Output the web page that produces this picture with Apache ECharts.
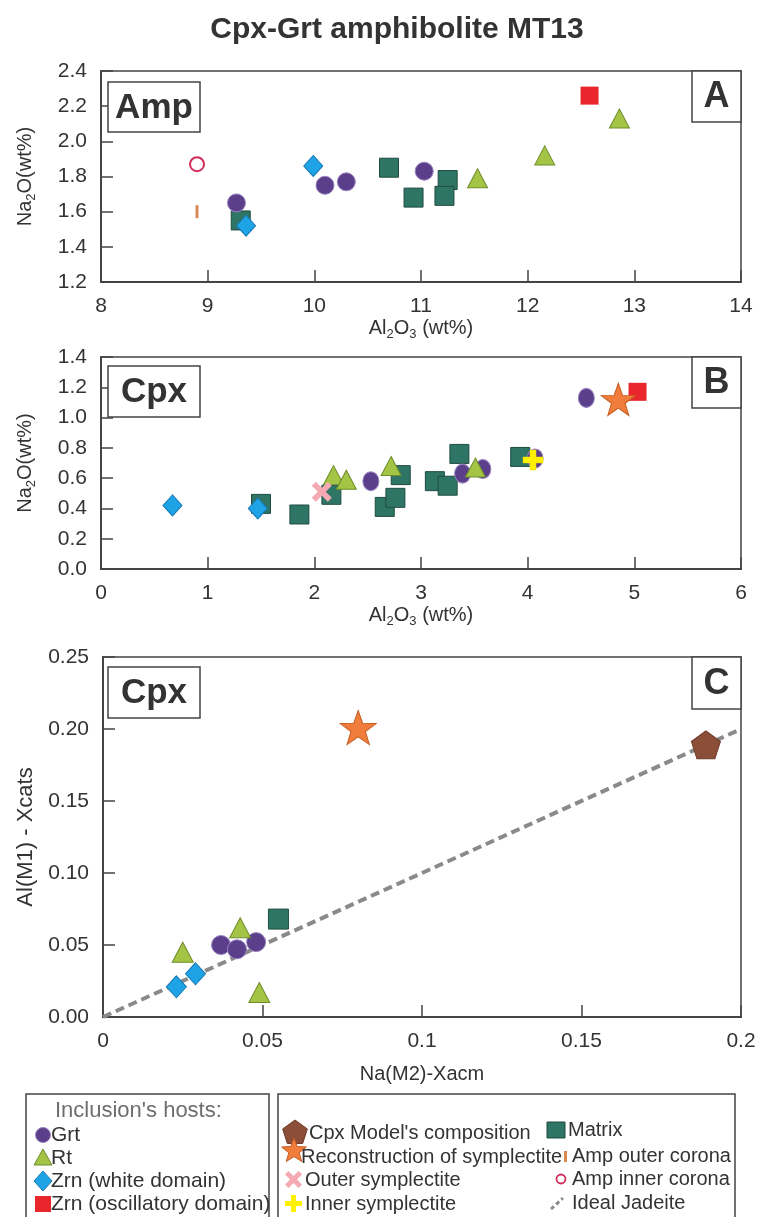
<!DOCTYPE html>
<html>
<head>
<meta charset="utf-8">
<script src="https://cdn.jsdelivr.net/npm/echarts@6/dist/echarts.min.js"></script>
<style>
  html, body { margin: 0; padding: 0; background: #fff; }
  #chart { width: 759px; height: 1217px; }
</style>
</head>
<body>
<div id="chart"></div>
<script>
// ---- Panel A: amphibole, Al2O3 vs Na2O (wt%) ----
const ampGrt = [[9.27, 1.65], [10.10, 1.75], [10.30, 1.77], [11.03, 1.83]];
const ampRt = [[11.53, 1.79], [12.16, 1.92], [12.86, 2.13]];
const ampZrnWhite = [[9.99, 1.86], [9.36, 1.52]];
const ampZrnOsc = [[12.58, 2.26]];
const ampMatrix = [[9.31, 1.55], [10.70, 1.85], [10.93, 1.68], [11.25, 1.78], [11.22, 1.69]];
const ampOuterCorona = [[8.90, 1.60]];
const ampInnerCorona = [[8.90, 1.87]];

// ---- Panel B: clinopyroxene, Al2O3 vs Na2O (wt%) ----
const cpxGrt = [[2.53, 0.58], [3.39, 0.63], [3.58, 0.66], [4.07, 0.73], [4.55, 1.13]];
const cpxRt = [[2.18, 0.62], [2.30, 0.59], [2.72, 0.68], [3.51, 0.67]];
const cpxZrnWhite = [[0.67, 0.42], [1.47, 0.40]];
const cpxZrnOsc = [[5.03, 1.17]];
const cpxMatrix = [[1.50, 0.43], [1.86, 0.36], [2.16, 0.49], [2.81, 0.62], [2.66, 0.41],
                   [2.76, 0.47], [3.13, 0.58], [3.25, 0.55], [3.36, 0.76], [3.93, 0.74]];
const cpxReconstruction = [[4.85, 1.12]];
const cpxOuterSymplectite = [[2.07, 0.51]];
const cpxInnerSymplectite = [[4.05, 0.72]];

// ---- Panel C: clinopyroxene, Na(M2)-Xacm vs Al(M1)-Xcats ----
const jdGrt = [[0.037, 0.050], [0.042, 0.047], [0.048, 0.052]];
const jdRt = [[0.025, 0.045], [0.043, 0.062], [0.049, 0.017]];
const jdZrnWhite = [[0.023, 0.021], [0.029, 0.030]];
const jdMatrix = [[0.055, 0.068]];
const jdReconstruction = [[0.080, 0.201]];
const jdModel = [[0.189, 0.189]];
const idealJadeite = [[0, 0], [0.2, 0.2]];

// ---- Axis ranges and tick steps ----
const axisA = { xMin: 8, xMax: 14, xStep: 1, yMin: 1.2, yMax: 2.4, yStep: 0.2 };
const axisB = { xMin: 0, xMax: 6, xStep: 1, yMin: 0, yMax: 1.4, yStep: 0.2 };
const axisC = { xMin: 0, xMax: 0.2, xStep: 0.05, yMin: 0, yMax: 0.25, yStep: 0.05 };

const FONT = "'Liberation Sans', Arial, Helvetica, sans-serif";
const INK = '#333';
const FRAME = '#444';

// custom marker outlines (100 x 100 unit box)
const X_PTS = [[20,0],[50,30],[80,0],[100,20],[70,50],[100,80],[80,100],[50,70],[20,100],[0,80],[30,50],[0,20]];
const PLUS_PTS = [[35,0],[65,0],[65,35],[100,35],[100,65],[65,65],[65,100],[35,100],[35,65],[0,65],[0,35],[35,35]];
const toPath = pts => 'path://' + pts.map((p, i) => (i ? 'L' : 'M') + p[0] + ' ' + p[1]).join('') + 'Z';
const STAR = 'path://M50 0L61.76 33.82L97.55 34.55L69.02 56.18L79.39 90.45L50 70L20.61 90.45L30.98 56.18L2.45 34.55L38.24 33.82Z';
const PENTAGON = 'path://M50 0L97.55 34.55L79.39 90.45L20.61 90.45L2.45 34.55Z';
const XMARK = toPath(X_PTS);
const PLUS = toPath(PLUS_PTS);

const STYLE = {
  grt:     { symbol: 'circle', size: 18, color: '#5b3f8b', border: '#9883c0', bw: 1 },
  rt:      { symbol: 'triangle', size: [20, 19], color: '#a3c445', border: '#6f8d2b', bw: 1 },
  zrnW:    { symbol: 'diamond', size: [19, 21], color: '#1ea4e6', border: '#1878b4', bw: 1 },
  zrnO:    { symbol: 'rect', size: 18, color: '#e9262c', border: '#e9262c', bw: 0 },
  matrix:  { symbol: 'rect', size: 19, color: '#2f7565', border: '#1f4c42', bw: 1 },
  recon:   { symbol: STAR, size: [34, 32], color: '#f07d3c', border: '#c55c20', bw: 1 },
  outer:   { symbol: XMARK, size: 20, color: '#f5a9b2', border: '#f5a9b2', bw: 0 },
  inner:   { symbol: PLUS, size: 20, color: '#fff200', border: '#f0d800', bw: 0.5 },
  model:   { symbol: PENTAGON, size: [29, 28], color: '#8b4e39', border: '#6e3a29', bw: 1 },
  ampOut:  { symbol: 'rect', size: [3, 13], color: '#d68a55', border: '#d68a55', bw: 0 },
  ampIn:   { symbol: 'circle', size: 14, color: '#ffffff', border: '#d22c5c', bw: 2 }
};

function scatter(name, data, gi, st, sizeOverride) {
  return {
    type: 'scatter', name: name, data: data,
    xAxisIndex: gi, yAxisIndex: gi,
    symbol: st.symbol, symbolSize: sizeOverride || st.size,
    itemStyle: { color: st.color, borderColor: st.border, borderWidth: st.bw, opacity: 1 },
    emphasis: { disabled: true }, z: 3
  };
}

const sub = { s: { fontSize: 13, verticalAlign: 'bottom', lineHeight: 13, padding: [0, 0, -3, 0] } };

function xAxis(gi, r, name, nameGap, fmt) {
  return {
    type: 'value', gridIndex: gi, min: r.xMin, max: r.xMax, interval: r.xStep,
    name: name, nameLocation: 'middle', nameGap: nameGap,
    nameTextStyle: { fontSize: 20, color: INK, fontFamily: FONT, rich: sub },
    axisLine: { show: true, onZero: false, lineStyle: { color: FRAME, width: 2 } },
    axisTick: { show: true, inside: true, length: 12, lineStyle: { color: FRAME, width: 1.5 } },
    splitLine: { show: false },
    axisLabel: { fontSize: 21, color: INK, fontFamily: FONT, margin: 14, formatter: fmt }
  };
}
function yAxis(gi, r, name, nameGap, fmt, nameSize) {
  return {
    type: 'value', gridIndex: gi, min: r.yMin, max: r.yMax, interval: r.yStep,
    name: name, nameLocation: 'middle', nameGap: nameGap, nameRotate: 90,
    nameTextStyle: { fontSize: nameSize || 20, color: INK, fontFamily: FONT, rich: sub },
    axisLine: { show: true, onZero: false, lineStyle: { color: FRAME, width: 2 } },
    axisTick: { show: true, inside: true, length: 12, lineStyle: { color: FRAME, width: 1.5 } },
    splitLine: { show: false },
    axisLabel: { fontSize: 21, color: INK, fontFamily: FONT, margin: 14, formatter: fmt }
  };
}

const f1 = v => v.toFixed(1);
const f2 = v => v.toFixed(2);
const fInt = v => String(Math.round(v));
const fTrim = v => String(+v.toFixed(2));

// panel tag boxes ("Amp", "Cpx", "A", ...)
function tagBox(x, y, w, h, text, size) {
  return [
    { type: 'rect', x: x, y: y, z: 50, shape: { width: w, height: h },
      style: { fill: '#fff', stroke: FRAME, lineWidth: 1.5 } },
    { type: 'text', x: x + w / 2, y: y + h / 2 + 1, z: 51,
      style: { text: text, fontSize: size, fontWeight: 'bold', fontFamily: FONT, fill: INK,
               align: 'center', verticalAlign: 'middle' } }
  ];
}

function legText(x, y, text, size, color) {
  return { type: 'text', x: x, y: y, z: 60,
    style: { text: text, fontSize: size, fontFamily: FONT, fill: color || INK, align: 'left', verticalAlign: 'middle' } };
}
function poly(points, st) {
  return { type: 'polygon', z: 60, shape: { points: points },
    style: { fill: st.color, stroke: st.border, lineWidth: st.bw } };
}
function unitPoly(pts, x, y, size, fill) {
  return { type: 'polygon', z: 60,
    shape: { points: pts.map(p => [x + p[0] * size / 100, y + p[1] * size / 100]) },
    style: { fill: fill } };
}
function starPts(cx, cy, R, r) {
  const p = [];
  for (let i = 0; i < 10; i++) {
    const a = -Math.PI / 2 + i * Math.PI / 5;
    const rad = i % 2 === 0 ? R : r;
    p.push([cx + rad * Math.cos(a), cy + rad * Math.sin(a)]);
  }
  return p;
}
function ngonPts(cx, cy, R, n) {
  const p = [];
  for (let i = 0; i < n; i++) {
    const a = -Math.PI / 2 + i * 2 * Math.PI / n;
    p.push([cx + R * Math.cos(a), cy + R * Math.sin(a)]);
  }
  return p;
}

const legendGraphics = [
  { type: 'rect', x: 26, y: 1094, z: 55, shape: { width: 243, height: 130 },
    style: { fill: '#fff', stroke: FRAME, lineWidth: 1.5 } },
  { type: 'rect', x: 278, y: 1094, z: 55, shape: { width: 457, height: 130 },
    style: { fill: '#fff', stroke: FRAME, lineWidth: 1.5 } },

  legText(55, 1111, "Inclusion's hosts:", 22, '#6e6e6e'),
  { type: 'circle', z: 60, shape: { cx: 43, cy: 1135, r: 7.5 },
    style: { fill: STYLE.grt.color, stroke: STYLE.grt.border, lineWidth: 1 } },
  legText(51, 1135, 'Grt', 21),
  poly([[43, 1149], [52, 1165], [34, 1165]], STYLE.rt),
  legText(51, 1158, 'Rt', 21),
  poly([[43, 1171], [52, 1181], [43, 1191], [34, 1181]], STYLE.zrnW),
  legText(51, 1181, 'Zrn (white domain)', 21),
  { type: 'rect', x: 35, y: 1196, z: 60, shape: { width: 16, height: 16 },
    style: { fill: STYLE.zrnO.color } },
  legText(51, 1204, 'Zrn (oscillatory domain)', 21),

  poly(ngonPts(295, 1133, 13, 5), STYLE.model),
  legText(309, 1133, "Cpx Model's composition", 20),
  poly(starPts(294, 1151, 13, 5.5), STYLE.recon),
  legText(301, 1157, 'Reconstruction of symplectite', 20),
  unitPoly(X_PTS, 285, 1171, 17, STYLE.outer.color),
  legText(305, 1180, 'Outer symplectite', 20),
  unitPoly(PLUS_PTS, 285, 1195, 17, STYLE.inner.color),
  legText(305, 1204, 'Inner symplectite', 20),

  { type: 'rect', x: 547, y: 1122, z: 60, shape: { width: 18, height: 16 },
    style: { fill: STYLE.matrix.color, stroke: STYLE.matrix.border, lineWidth: 1 } },
  legText(568, 1130, 'Matrix', 20),
  { type: 'rect', x: 564, y: 1151, z: 60, shape: { width: 3, height: 11 }, style: { fill: STYLE.ampOut.color } },
  legText(572, 1156, 'Amp outer corona', 20),
  { type: 'circle', z: 60, shape: { cx: 561, cy: 1179, r: 4.5 },
    style: { fill: '#fff', stroke: STYLE.ampIn.border, lineWidth: 1.8 } },
  legText(572, 1179, 'Amp inner corona', 20),
  { type: 'line', z: 60, shape: { x1: 551, y1: 1209, x2: 563, y2: 1198 },
    style: { stroke: '#8a8a8a', lineWidth: 3, lineDash: [4, 3] } },
  legText(572, 1203, 'Ideal Jadeite', 20)
];

const chart = echarts.init(document.getElementById('chart'), null, { renderer: 'canvas' });

const gridBase = { show: true, borderColor: FRAME, borderWidth: 1.5, backgroundColor: 'transparent' };

const option = {
  animation: false,
  backgroundColor: '#fff',
  textStyle: { fontFamily: FONT },
  grid: [
    Object.assign({ left: 101, top: 71, width: 640, height: 211 }, gridBase),
    Object.assign({ left: 101, top: 357, width: 640, height: 212 }, gridBase),
    Object.assign({ left: 103, top: 657, width: 638, height: 360 }, gridBase)
  ],
  xAxis: [
    xAxis(0, axisA, 'Al{s|2}O{s|3} (wt%)', 36, fInt),
    xAxis(1, axisB, 'Al{s|2}O{s|3} (wt%)', 36, fInt),
    xAxis(2, axisC, 'Na(M2)-Xacm', 47, fTrim)
  ],
  yAxis: [
    yAxis(0, axisA, 'Na{s|2}O(wt%)', 66, f1),
    yAxis(1, axisB, 'Na{s|2}O(wt%)', 66, f1),
    yAxis(2, axisC, 'Al(M1) - Xcats', 66, f2, 22)
  ],
  series: [
    // panel A
    scatter('Matrix', ampMatrix, 0, STYLE.matrix),
    scatter('Grt', ampGrt, 0, STYLE.grt),
    scatter('Rt', ampRt, 0, STYLE.rt),
    scatter('Zrn (white domain)', ampZrnWhite, 0, STYLE.zrnW),
    scatter('Zrn (oscillatory domain)', ampZrnOsc, 0, STYLE.zrnO),
    scatter('Amp outer corona', ampOuterCorona, 0, STYLE.ampOut),
    scatter('Amp inner corona', ampInnerCorona, 0, STYLE.ampIn),
    // panel B
    scatter('Matrix', cpxMatrix, 1, STYLE.matrix),
    scatter('Grt', cpxGrt, 1, STYLE.grt, [16, 19]),
    scatter('Rt', cpxRt, 1, STYLE.rt),
    scatter('Zrn (white domain)', cpxZrnWhite, 1, STYLE.zrnW),
    scatter('Zrn (oscillatory domain)', cpxZrnOsc, 1, STYLE.zrnO),
    scatter('Outer symplectite', cpxOuterSymplectite, 1, STYLE.outer),
    scatter('Inner symplectite', cpxInnerSymplectite, 1, STYLE.inner),
    scatter('Reconstruction of symplectite', cpxReconstruction, 1, STYLE.recon),
    // panel C
    {
      type: 'line', name: 'Ideal Jadeite', data: idealJadeite, xAxisIndex: 2, yAxisIndex: 2,
      symbol: 'none', lineStyle: { color: '#8a8a8a', width: 4, type: [9, 5] }, z: 2, silent: true
    },
    scatter('Matrix', jdMatrix, 2, STYLE.matrix, 20),
    scatter('Grt', jdGrt, 2, STYLE.grt, 19),
    scatter('Rt', jdRt, 2, STYLE.rt, [21, 20]),
    scatter('Zrn (white domain)', jdZrnWhite, 2, STYLE.zrnW, [20, 22]),
    scatter('Reconstruction of symplectite', jdReconstruction, 2, STYLE.recon, [36, 34]),
    scatter("Cpx Model's composition", jdModel, 2, STYLE.model)
  ],
  graphic: [
    { type: 'text', x: 397, y: 30, z: 60,
      style: { text: 'Cpx-Grt amphibolite MT13', fontSize: 30, fontWeight: 'bold', fontFamily: FONT,
               fill: INK, align: 'center', verticalAlign: 'middle' } }
  ].concat(
    tagBox(108, 82, 92, 50, 'Amp', 35),
    tagBox(692, 71, 49, 51, 'A', 36),
    tagBox(108, 366, 92, 51, 'Cpx', 35),
    tagBox(692, 357, 49, 51, 'B', 36),
    tagBox(108, 667, 92, 51, 'Cpx', 35),
    tagBox(692, 657, 49, 52, 'C', 36),
    legendGraphics
  )
};

chart.setOption(option);
</script>
</body>
</html>
